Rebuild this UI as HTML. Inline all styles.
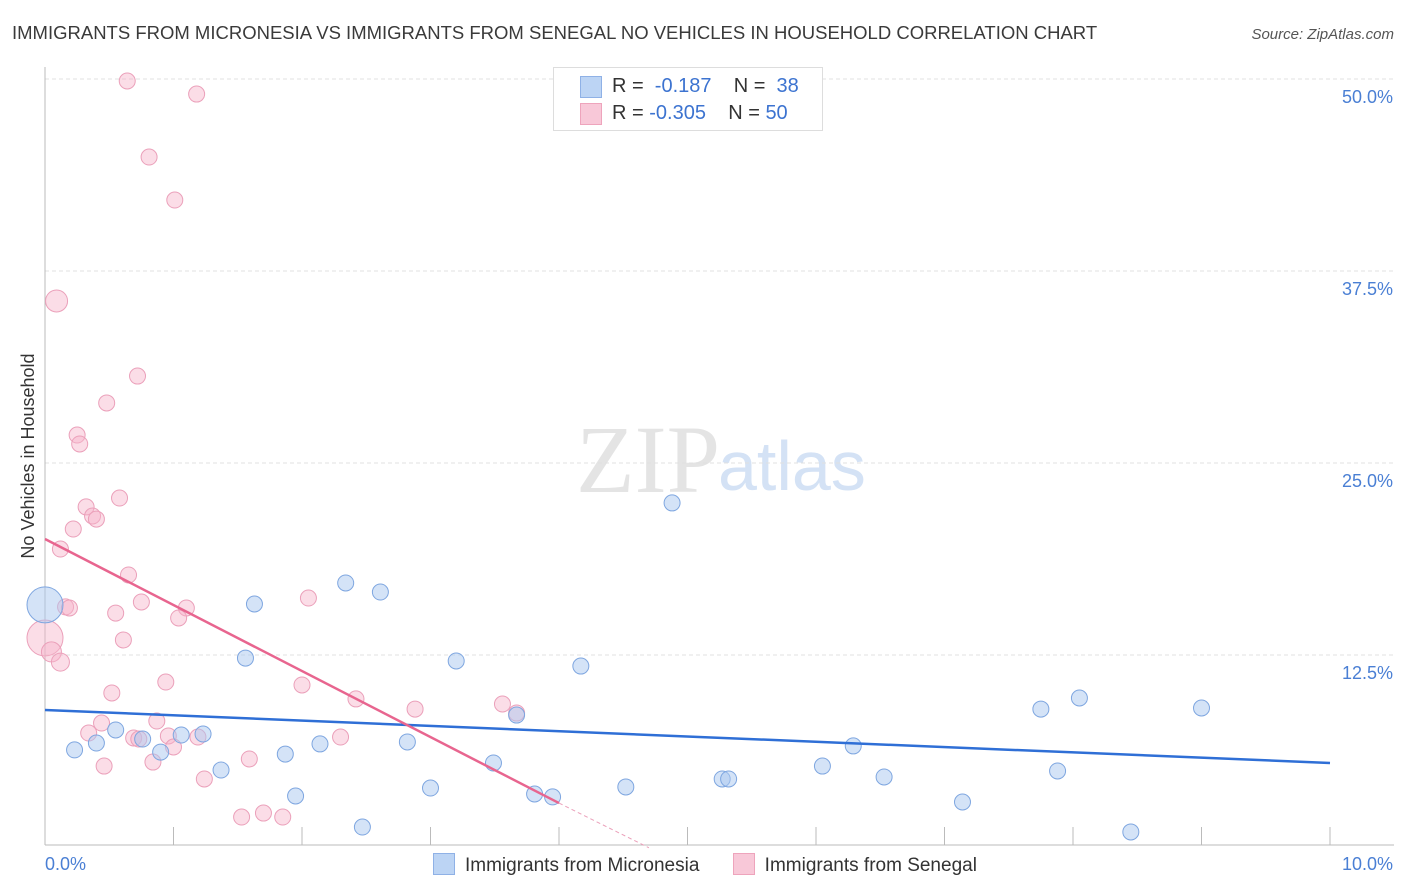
<!DOCTYPE html>
<html><head><meta charset="utf-8"><style>
body{margin:0;background:#fff;font-family:"Liberation Sans",sans-serif;}
#wrap{position:relative;width:1406px;height:892px;overflow:hidden;}
</style></head><body>
<div id="wrap">
<svg id="svg" width="1406" height="892" xmlns="http://www.w3.org/2000/svg">
<text x="12" y="39" font-size="18.5" fill="#3a3a3a">IMMIGRANTS FROM MICRONESIA VS IMMIGRANTS FROM SENEGAL NO VEHICLES IN HOUSEHOLD CORRELATION CHART</text>
<text x="1394" y="39" font-size="15" font-style="italic" fill="#555" text-anchor="end">Source: ZipAtlas.com</text>
<text x="720" y="492" font-size="96" font-family="Liberation Serif,serif" fill="#e4e4e4" text-anchor="end">ZIP</text>
<text x="718" y="490" font-size="70" fill="#d4e2f5">atlas</text>
<text transform="translate(34,456) rotate(-90)" font-size="18" fill="#333" text-anchor="middle">No Vehicles in Household</text>
<g id="grid"></g><g id="marks"></g>
</svg>
<div style="position:absolute;left:553px;top:67px;width:268px;height:62px;border:1px solid #ddd;background:#fff;font-size:20px;color:#333">
 <div style="position:absolute;left:26px;top:8px;width:20px;height:20px;background:#bcd4f4;border:1px solid #8fb1e6"></div>
 <div style="position:absolute;left:58px;top:7px">R = &nbsp;<span style="color:#3c73d0">-0.187</span>&nbsp;&nbsp;&nbsp; N = &nbsp;<span style="color:#3c73d0">38</span></div>
 <div style="position:absolute;left:26px;top:35px;width:20px;height:20px;background:#f8c8d8;border:1px solid #eea4bc"></div>
 <div style="position:absolute;left:58px;top:34px">R = <span style="color:#3c73d0">-0.305</span>&nbsp;&nbsp;&nbsp; N = <span style="color:#3c73d0">50</span></div>
</div>
<div style="position:absolute;left:433px;top:853px;font-size:19px;color:#333">
 <span style="display:inline-block;width:20px;height:20px;background:#bcd4f4;border:1px solid #8fb1e6;vertical-align:-4px;margin-right:10px"></span><span>Immigrants from Micronesia</span>
 <span style="display:inline-block;width:20px;height:20px;background:#f8c8d8;border:1px solid #eea4bc;vertical-align:-4px;margin:0 10px 0 28px"></span><span>Immigrants from Senegal</span>
</div>
</div>
<script>
const blueX=[0.00,0.23,0.40,0.55,0.76,0.90,1.06,1.23,1.37,1.56,1.63,1.87,1.95,2.14,2.34,2.47,2.61,2.82,3.00,3.20,3.49,3.67,3.81,3.95,4.17,4.52,4.88,5.27,5.32,6.05,6.29,6.53,7.14,7.75,7.88,8.05,8.45,9.00];
const blueY=[15.76,6.32,6.77,7.62,7.03,6.18,7.29,7.36,5.01,12.30,15.82,6.05,3.32,6.71,17.19,1.30,16.60,6.84,3.84,12.11,5.47,8.59,3.45,3.26,11.78,3.91,22.40,4.43,4.43,5.27,6.58,4.56,2.93,8.98,4.95,9.70,0.98,9.05];
const blueSize=[18,8,8,8,8,8,8,8,8,8,8,8,8,8,8,8,8,8,8,8,8,8,8,8,8,8,8,8,8,8,8,8,8,8,8,8,8,8];
const pinkX=[0.64,1.18,0.81,1.01,0.09,0.72,0.48,0.25,0.27,0.58,0.32,0.37,0.40,0.22,0.12,0.65,0.16,0.19,0.75,0.55,1.10,1.04,2.05,0.61,0.00,0.05,0.12,0.94,0.52,2.00,2.42,2.88,3.56,3.67,0.44,0.87,0.34,0.69,0.73,0.96,1.19,1.00,2.30,0.84,0.46,1.59,1.24,1.53,1.70,1.85];
const pinkY=[49.87,49.02,44.92,42.12,35.55,30.66,28.91,26.82,26.24,22.72,22.14,21.55,21.35,20.70,19.40,17.71,15.63,15.56,15.95,15.23,15.56,14.91,16.21,13.48,13.61,12.70,12.04,10.74,10.03,10.55,9.64,8.98,9.31,8.72,8.07,8.20,7.42,7.10,7.03,7.23,7.16,6.51,7.16,5.53,5.27,5.73,4.43,1.95,2.21,1.95];
const pinkSize=[8,8,8,8,11,8,8,8,8,8,8,8,8,8,8,8,8,8,8,8,8,8,8,8,18,10,9,8,8,8,8,8,8,8,8,8,8,8,8,8,8,8,8,8,8,8,8,8,8,8];
const blueTrend=[[0,8.92],[10,5.47]];
const pinkTrend=[[0,20.05],[4.0,2.86]];
const pinkTrendExt=[[4.0,2.86],[4.7,-0.05]];
const yTicks=[12.5,25.0,37.5,50.0];
const xTicks=[0,1,2,3,4,5,6,7,8,9,10];
const X0=45,X1=1330,Y0=847,PXY=15.36;
const sx=v=>X0+(X1-X0)*v/10;
const sy=v=>Y0-v*PXY;
const NS="http://www.w3.org/2000/svg";
const grid=document.getElementById('grid'),marks=document.getElementById('marks');
function mk(p,tag,a){const e=document.createElementNS(NS,tag);for(const k in a)e.setAttribute(k,a[k]);p.appendChild(e);return e;}
yTicks.forEach(t=>{
 const l=mk(grid,'line',{x1:X0,x2:1394,y1:sy(t),y2:sy(t),stroke:'#e0e0e0','stroke-dasharray':'4,3'});
 
 
 const tx=mk(grid,'text',{x:1393,y:sy(t)+24,'font-size':18,fill:'#4a7fd4','text-anchor':'end'});
 tx.textContent=t.toFixed(1)+'%';
 
 
});
const ya=mk(grid,'line',{x1:X0,x2:X0,y1:67,y2:845,stroke:'#bbb'});


const xa=mk(grid,'line',{x1:X0,x2:1394,y1:845,y2:845,stroke:'#bbb'});


xTicks.forEach(t=>{
 const l=mk(grid,'line',{x1:sx(t),x2:sx(t),y1:827,y2:845,stroke:'#bbb'});
 
 
});
const xl0=mk(grid,'text',{x:45,y:870,'font-size':18,fill:'#4a7fd4'});xl0.textContent=xTicks[0].toFixed(1)+'%';


const xl1=mk(grid,'text',{x:1393,y:870,'font-size':18,fill:'#4a7fd4','text-anchor':'end'});xl1.textContent=xTicks[xTicks.length-1].toFixed(1)+'%';


pinkX.forEach((v,i)=>{
 const c=mk(marks,'circle',{cx:sx(v),cy:sy(pinkY[i]),r:pinkSize[i],fill:'rgba(246,180,202,0.45)',stroke:'#eba0ba','stroke-width':1});
 
 
});
blueX.forEach((v,i)=>{
 const c=mk(marks,'circle',{cx:sx(v),cy:sy(blueY[i]),r:blueSize[i],fill:'rgba(170,200,240,0.5)',stroke:'#7ea6e0','stroke-width':1});
 
 
});
const bl=mk(marks,'line',{x1:sx(blueTrend[0][0]),y1:sy(blueTrend[0][1]),x2:sx(blueTrend[1][0]),y2:sy(blueTrend[1][1]),stroke:'#2f6fd6','stroke-width':2.5});


const pl=mk(marks,'line',{x1:sx(pinkTrend[0][0]),y1:sy(pinkTrend[0][1]),x2:sx(pinkTrend[1][0]),y2:sy(pinkTrend[1][1]),stroke:'#e8658f','stroke-width':2.5});


const pd=mk(marks,'line',{x1:sx(pinkTrendExt[0][0]),y1:sy(pinkTrendExt[0][1]),x2:sx(pinkTrendExt[1][0]),y2:sy(pinkTrendExt[1][1]),stroke:'#eba0ba','stroke-width':1,'stroke-dasharray':'4,3'});


</script>
</body></html>
